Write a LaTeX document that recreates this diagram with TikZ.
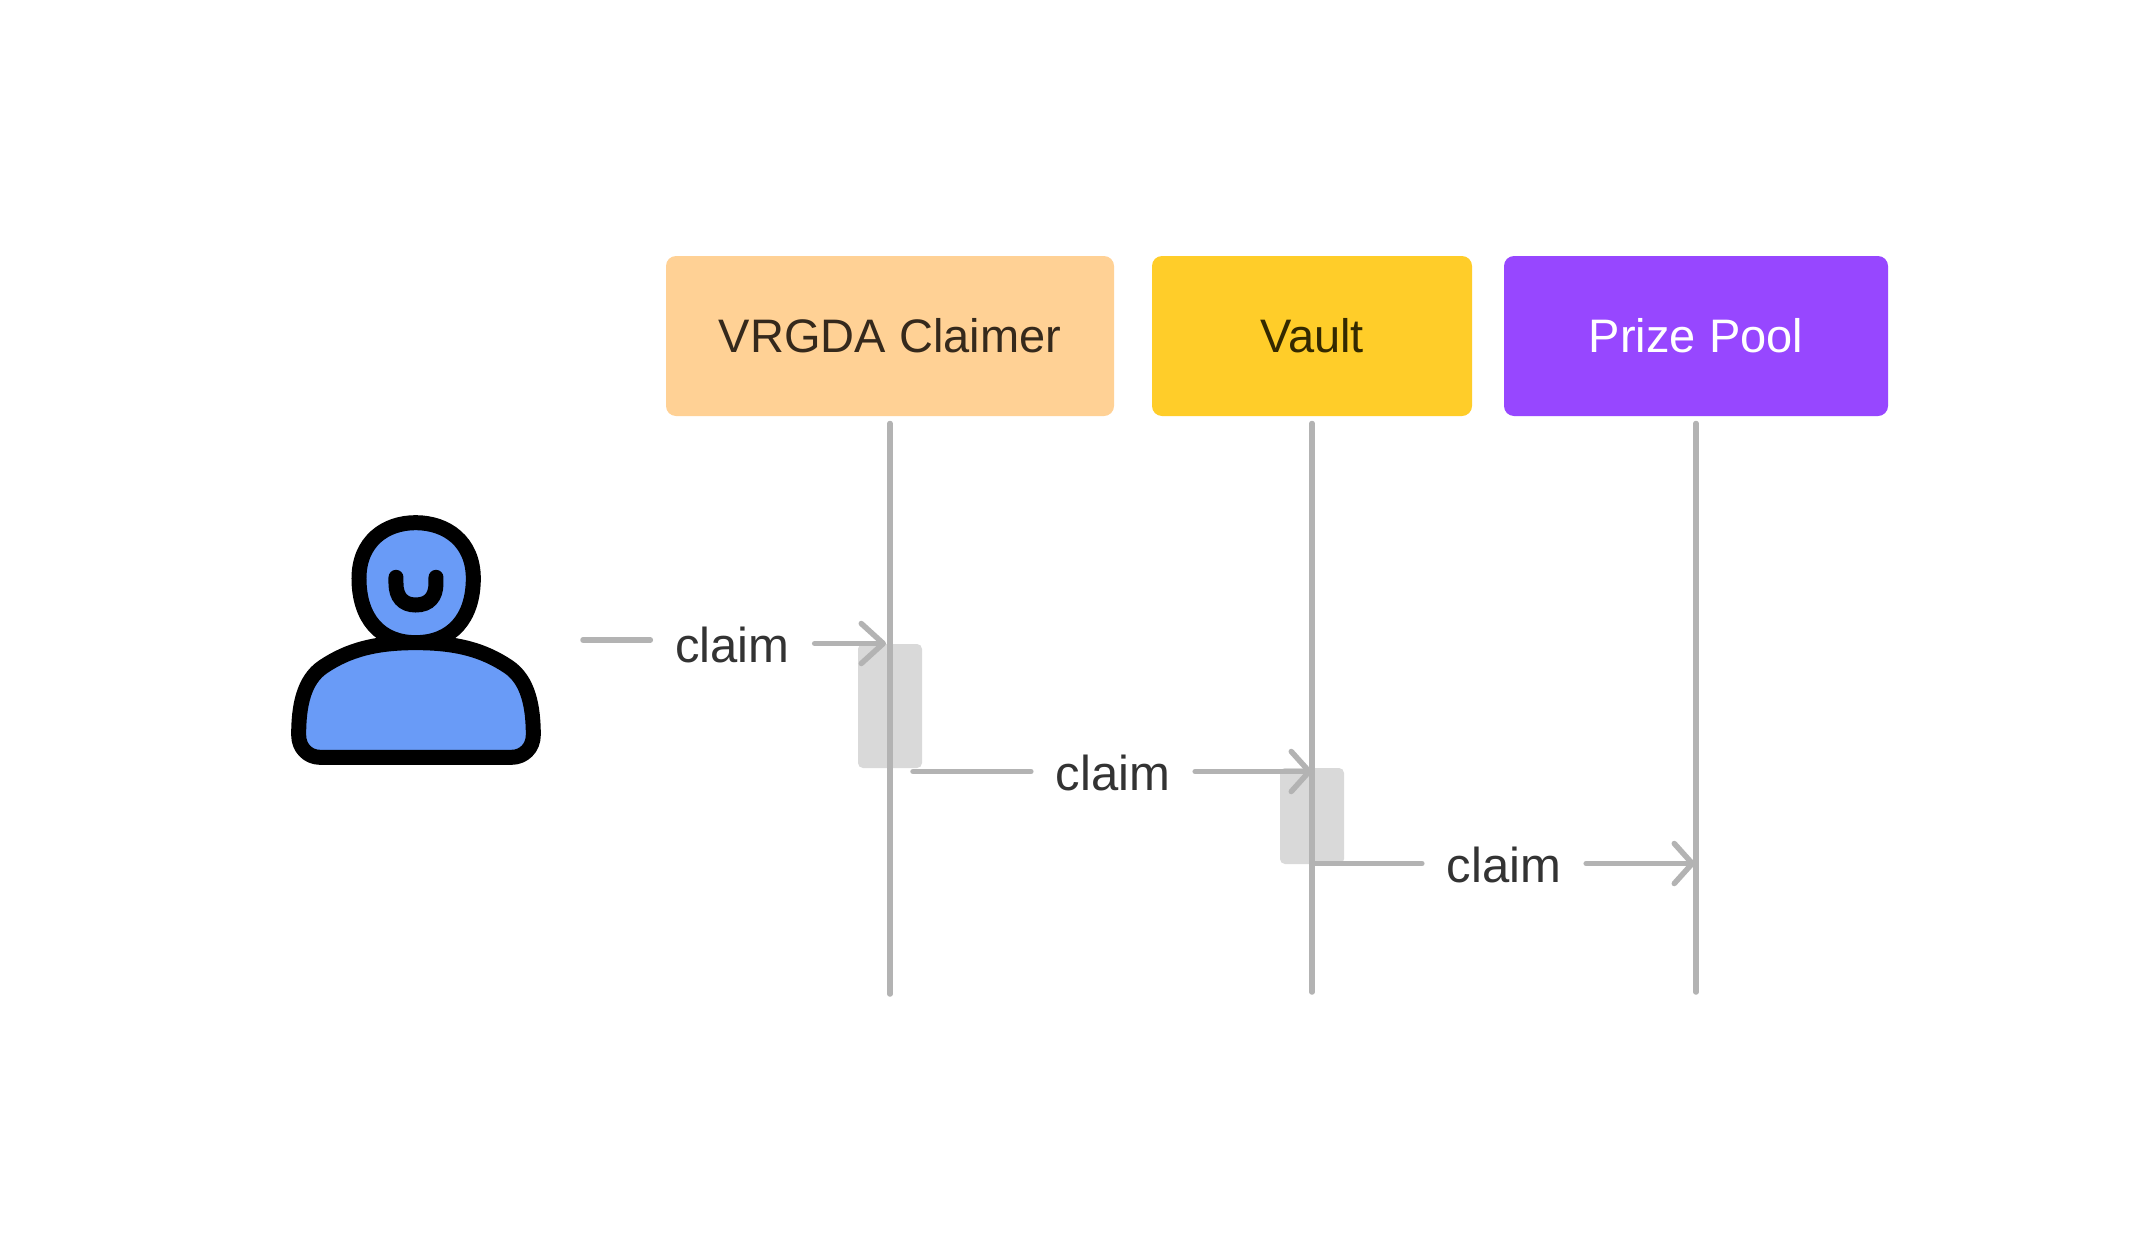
\documentclass[tikz,border=0pt]{standalone}
\usepackage{fontspec}
\setmainfont{Liberation Sans}
\usetikzlibrary{arrows.meta}
\definecolor{boxa}{HTML}{FFD195}
\definecolor{boxb}{HTML}{FFCD29}
\definecolor{boxc}{HTML}{9747FF}
\definecolor{seqgray}{HTML}{B3B3B3}
\definecolor{actgray}{HTML}{D9D9D9}
\definecolor{persona}{HTML}{699BF7}
\definecolor{inka}{HTML}{35291C}
\definecolor{inkb}{HTML}{332900}
\definecolor{inkc}{HTML}{333333}
\tikzset{
  x=1pt,y=-1pt,
  participant/.style={rectangle,rounded corners=10pt,minimum height=160pt,inner sep=0pt,outer sep=0pt,font=\fontsize{47}{50}\selectfont},
  activation/.style={rectangle,rounded corners=5pt,fill=actgray,inner sep=0pt,outer sep=0pt,minimum width=64pt},
  lifeline/.style={draw=seqgray,line width=5.5pt,line cap=round},
  seqline/.style={draw=seqgray,line width=5.5pt,line cap=round},
  tipped/.style={seqline,-{Straight Barb[length=#1,width=40pt,line width=5.5pt,round]}},
  msg/.style={inner xsep=25pt,inner ysep=0pt,outer sep=0pt,anchor=base,text=inkc,font=\fontsize{49}{52}\selectfont},
  outline/.style={draw=black,line width=15pt,fill=persona,line join=round}
}
\begin{document}
\begin{tikzpicture}
\useasboundingbox[fill=white] (0,0) rectangle (2144,1253);
% participants
\node[participant,fill=boxa,text=inka,minimum width=448pt] (claimer) at (890,336) {\raisebox{-1pt}{VRGDA Claimer}};
\node[participant,fill=boxb,text=inkb,minimum width=320pt] (vault) at (1312,336) {\raisebox{-1pt}{Vault}};
\node[participant,fill=boxc,text=white,minimum width=384pt] (pool) at (1696,336) {\raisebox{-1pt}{Prize Pool}};
% activations
\node[activation,minimum height=124pt] (acta) at (890,706) {};
\node[activation,minimum height=96pt] (actb) at (1312,816) {};
% lifelines
\coordinate (enda) at (890,994);
\coordinate (endb) at (1312,992);
\coordinate (endc) at (1696,992);
\draw[lifeline] ([yshift=-7.5pt]claimer.south) -- (enda);
\draw[lifeline] ([yshift=-7.5pt]vault.south) -- (endb);
\draw[lifeline] ([yshift=-7.5pt]pool.south) -- (endc);
% messages
\node[msg] (msga) at (732.5,662) {claim};
\node[msg] (msgb) at (1113,790) {claim};
\node[msg] (msgc) at (1504,882) {claim};
\coordinate (froma) at (583,640);
\coordinate (tipa) at (886,643.5);
\coordinate (fromb) at (913,771.5);
\coordinate (tipb) at (1312,771.5);
\coordinate (fromc) at (1314,863.5);
\coordinate (tipc) at (1695,863.5);
\draw[seqline] (froma) -- (froma -| msga.west);
\draw[tipped=22pt] (msga.east |- tipa) -- (tipa);
\draw[seqline] (fromb) -- (fromb -| msgb.west);
\draw[tipped=18pt] (msgb.east |- tipb) -- (tipb);
\draw[seqline] (fromc) -- (fromc -| msgc.west);
\draw[tipped=18pt] (msgc.east |- tipc) -- (tipc);
% person: scaled from a 3x crop at (270,490)
\begin{scope}[shift={(270,490)},x=0.3333pt,y=-0.3333pt]
\draw[outline] (437,98)
  .. controls (530,98) and (610,155) .. (610,265)
  .. controls (610,385) and (545,458) .. (437,458)
  .. controls (330,458) and (267,385) .. (267,265)
  .. controls (267,155) and (345,98) .. (437,98) -- cycle;
\draw[outline] (437,458)
  .. controls (560,458) and (640,480) .. (715,530)
  .. controls (775,570) and (790,650) .. (790,735)
  .. controls (790,775) and (760,802) .. (725,802)
  -- (150,802)
  .. controls (115,802) and (86,775) .. (86,735)
  .. controls (86,650) and (100,570) .. (160,530)
  .. controls (235,480) and (315,458) .. (437,458) -- cycle;
\draw[draw=black,line width=15pt,line cap=round] (378,262) -- (378,280)
  .. controls (378,320) and (398,345) .. (437,345)
  .. controls (478,345) and (498,320) .. (498,280) -- (498,262);
\end{scope}
\end{tikzpicture}
\end{document}
